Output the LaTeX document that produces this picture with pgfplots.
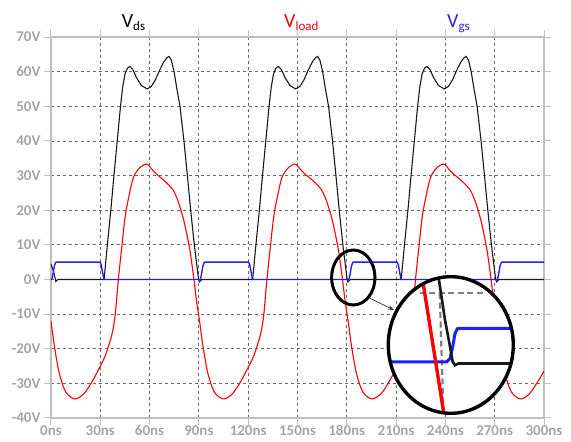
\documentclass[border=0pt]{standalone}
\usepackage{pgfplots}
\pgfplotsset{compat=1.18}
\usepackage{fontspec}
\setmainfont{Carlito}
\usetikzlibrary{arrows.meta}
\definecolor{framec}{RGB}{191,191,191}
\definecolor{tickc}{RGB}{165,165,165}
\definecolor{gridc}{RGB}{105,105,105}
\definecolor{vds}{RGB}{25,25,25}
\definecolor{vload}{RGB}{255,0,0}
\definecolor{vgs}{RGB}{30,30,255}
\definecolor{vgstitle}{RGB}{40,40,210}
\begin{document}
\begin{tikzpicture}[x=1pt,y=1pt]
\useasboundingbox (0,0) rectangle (571,442);
\begin{axis}[
  at={(51pt,24pt)}, anchor=south west,
  scale only axis, width=493pt, height=381pt,
  xmin=0, xmax=300, ymin=-40, ymax=70,
  xtick={0,30,...,300}, ytick={-40,-30,...,70},
  xticklabels={0ns,30ns,60ns,90ns,120ns,150ns,180ns,210ns,240ns,270ns,300ns},
  yticklabels={-40V,-30V,-20V,-10V,0V,10V,20V,30V,40V,50V,60V,70V},
  axis line style={framec, line width=1.2pt},
  grid=major, grid style={gridc, line width=0.8pt, dash pattern=on 3pt off 3pt},
  tick style={framec, line width=1pt}, tick align=outside, major tick length=7pt,
  ticklabel style={font=\fontsize{15}{15}\selectfont\bfseries, text=tickc},
  xticklabel style={inner sep=1pt, yshift=1pt},
]
\addplot[vds, line width=1.1pt] coordinates {
(0,4.5)(1.5,2.4)(2.6,0.2)(3.0,-0.6)(3.6,-0.3)(4.2,0)
(32.3,0)(34.3,10)(36.4,20)(38.3,30)(40.3,40)(42.3,50)(43.6,55.5)(45,59.3)(46.5,61)(48,61.5)(49.8,60.6)(52,58.3)(55,56)(58.5,55)(61,55.7)(63.5,57.6)(66,60.3)(68.5,62.7)(70.5,64)(71.8,64.4)(73.2,63.4)(74.9,60)(76.6,55)(78.5,50)(80.9,40)(83,30)(85,20)(87.2,10)(89.8,0)(90.3,-0.7)(91,-0.4)(91.8,0)
(122.7,0)(124.7,10)(126.8,20)(128.7,30)(130.7,40)(132.7,50)(134.0,55.5)(135.4,59.3)(136.9,61)(138.4,61.5)(140.2,60.6)(142.4,58.3)(145.4,56)(148.9,55)(151.4,55.7)(153.9,57.6)(156.4,60.3)(158.9,62.7)(160.9,64)(162.2,64.4)(163.6,63.4)(165.3,60)(167.0,55)(168.9,50)(171.3,40)(173.4,30)(175.4,20)(177.6,10)(180.2,0)(180.7,-0.7)(181.4,-0.4)(182.2,0)
(213.1,0)(215.1,10)(217.2,20)(219.1,30)(221.1,40)(223.1,50)(224.4,55.5)(225.8,59.3)(227.3,61)(228.8,61.5)(230.6,60.6)(232.8,58.3)(235.8,56)(239.3,55)(241.8,55.7)(244.3,57.6)(246.8,60.3)(249.3,62.7)(251.3,64)(252.6,64.4)(254.0,63.4)(255.7,60)(257.4,55)(259.3,50)(261.7,40)(263.8,30)(265.8,20)(268.0,10)(270.6,0)(271.1,-0.7)(271.8,-0.4)(272.6,0)
(300,0)
};
\addplot[vload, line width=1.1pt, smooth, tension=0.5] coordinates {
(0,-12)(2,-19)(5,-27)(9,-32.5)(14.5,-34.5)(20,-33)(25,-29.5)(30,-25)(33,-22)(36.9,-16.2)(39,-10.5)(41,0)(43.1,9.5)(45.1,18)(47.1,23.3)(50.2,29.5)(54.3,32.4)(58.5,33.3)(61,32)(64,30.5)(69,28.5)(74,26)(77,23)(80,18.5)(82,14.5)(84.5,8.5)(87,0)(88.5,-6)
(90.4,-12)(92.4,-19)(95.4,-27)(99.4,-32.5)(104.9,-34.5)(110.4,-33)(115.4,-29.5)(120.4,-25)(123.4,-22)(127.3,-16.2)(129.4,-10.5)(131.4,0)(133.5,9.5)(135.5,18)(137.5,23.3)(140.6,29.5)(144.7,32.4)(148.9,33.3)(151.4,32)(154.4,30.5)(159.4,28.5)(164.4,26)(167.4,23)(170.4,18.5)(172.4,14.5)(174.9,8.5)(177.4,0)(178.9,-6)
(180.8,-12)(182.8,-19)(185.8,-27)(189.8,-32.5)(195.3,-34.5)(200.8,-33)(205.8,-29.5)(210.8,-25)(213.8,-22)(217.7,-16.2)(219.8,-10.5)(221.8,0)(223.9,9.5)(225.9,18)(227.9,23.3)(231.0,29.5)(235.1,32.4)(239.3,33.3)(241.8,32)(244.8,30.5)(249.8,28.5)(254.8,26)(257.8,23)(260.8,18.5)(262.8,14.5)(265.3,8.5)(267.8,0)(269.3,-6)
(271.2,-12)(273.2,-19)(276.2,-27)(280.2,-32.5)(285.7,-34.5)(291.2,-33)(296.2,-29.5)(300,-26.5)
};
\addplot[vgs, line width=1.4pt] coordinates {
(0,0)(0.5,0)(1.2,1.5)(2.0,3.8)(2.8,4.9)(3.3,5)(29.8,5)(30.6,4.2)(31.4,2)(32.1,0.3)(32.4,0)
(90.9,0)(91.6,1.5)(92.4,3.8)(93.2,4.9)(93.7,5)(120.2,5)(121.0,4.2)(121.8,2)(122.5,0.3)(122.8,0)
(181.3,0)(182.0,1.5)(182.8,3.8)(183.6,4.9)(184.1,5)(210.6,5)(211.4,4.2)(212.2,2)(212.9,0.3)(213.2,0)
(271.7,0)(272.4,1.5)(273.2,3.8)(274.0,4.9)(274.5,5)(300,5)
};
\end{axis}
% small ellipse and arrow
\draw[black, line width=3pt] (353.3,164.5) ellipse [x radius=21.7, y radius=27.5];
\draw[-{Stealth[length=6pt,width=4.5pt]}, line width=0.8pt, black!75] (370,143.7) -- (394,132);
% inset
\fill[white] (450.8,97) ellipse [x radius=62.5, y radius=68.3];
\begin{scope}
\clip (450.8,97) ellipse [x radius=62.5, y radius=68.3];
\begin{axis}[
  at={(388pt,28.7pt)}, anchor=south west,
  scale only axis, width=126pt, height=136.3pt,
  xmin=168.3, xmax=195.1, ymin=-7.7, ymax=12.7,
  axis lines=none, ticks=none,
]
\addplot[gray, line width=2.2pt, dash pattern=on 6pt off 3.5pt] coordinates {(175.1,10.3)(188.6,10.3)};
\addplot[gray, line width=2.2pt, dash pattern=on 6pt off 3.5pt] coordinates {(179.3,10.3)(180.1,-8)};
\addplot[vgs, line width=3pt] coordinates {(167,0)(180.8,0)(181.5,0.5)(182.06,2.25)(182.55,4.25)(183.04,4.95)(183.6,5)(197,5)};
\addplot[vds, line width=2.6pt] coordinates {(178.9,13.5)(179.2,12.0)(180.43,6.24)(181.5,2.25)(182.06,0)(182.55,-0.5)(183.26,-0.25)(197,-0.25)};
\addplot[vload, line width=3.4pt] coordinates {(175.5,13)(180.24,-8)};
\end{axis}
\end{scope}
\draw[black, line width=3.4pt] (450.8,97) ellipse [x radius=62.5, y radius=68.3];
% titles
\node[anchor=base west, inner sep=0, text=black] at (121.7,414.3) {\fontsize{20}{20}\selectfont V\raisebox{-2.5pt}{\fontsize{13}{13}\selectfont ds}};
\node[anchor=base west, inner sep=0, text=vload] at (284,414.3) {\fontsize{20}{20}\selectfont V\raisebox{-2.5pt}{\fontsize{13}{13}\selectfont load}};
\node[anchor=base west, inner sep=0, text=vgstitle] at (447,414.3) {\fontsize{20}{20}\selectfont V\raisebox{-2.5pt}{\fontsize{13}{13}\selectfont gs}};
\end{tikzpicture}
\end{document}
